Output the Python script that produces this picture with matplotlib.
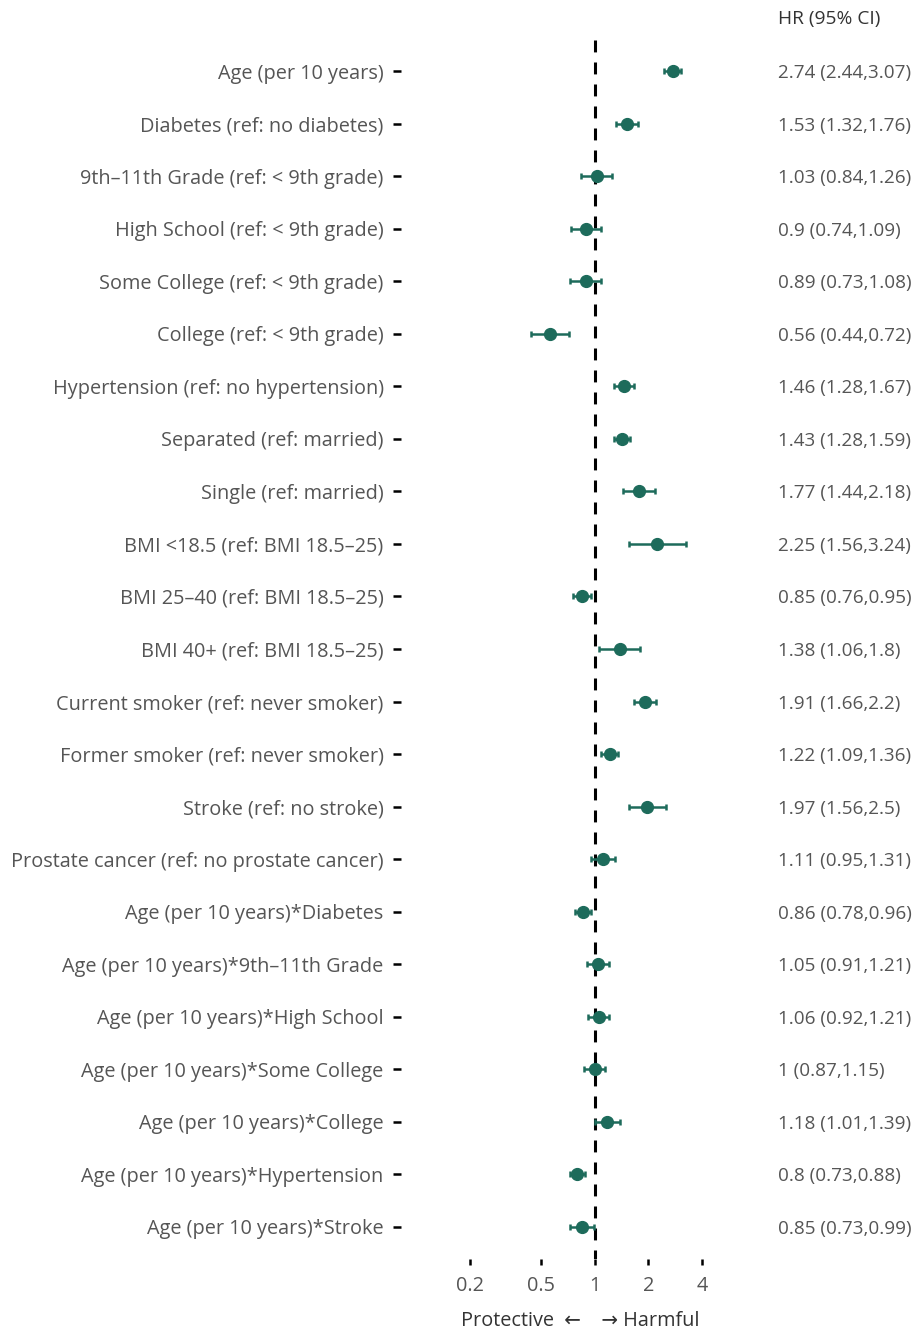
import matplotlib
matplotlib.use('Agg')
import matplotlib.pyplot as plt
import matplotlib.transforms as mtransforms

# forest plot data, top to bottom
labels = [
    'Age (per 10 years)',
    'Diabetes (ref: no diabetes)',
    '9th\u201311th Grade (ref: < 9th grade)',
    'High School (ref: < 9th grade)',
    'Some College (ref: < 9th grade)',
    'College (ref: < 9th grade)',
    'Hypertension (ref: no hypertension)',
    'Separated (ref: married)',
    'Single (ref: married)',
    'BMI <18.5 (ref: BMI 18.5\u201325)',
    'BMI 25\u201340 (ref: BMI 18.5\u201325)',
    'BMI 40+ (ref: BMI 18.5\u201325)',
    'Current smoker (ref: never smoker)',
    'Former smoker (ref: never smoker)',
    'Stroke (ref: no stroke)',
    'Prostate cancer (ref: no prostate cancer)',
    'Age (per 10 years)*Diabetes',
    'Age (per 10 years)*9th\u201311th Grade',
    'Age (per 10 years)*High School',
    'Age (per 10 years)*Some College',
    'Age (per 10 years)*College',
    'Age (per 10 years)*Hypertension',
    'Age (per 10 years)*Stroke',
]
hr = [2.74, 1.53, 1.03, 0.9, 0.89, 0.56, 1.46, 1.43, 1.77, 2.25, 0.85, 1.38,
      1.91, 1.22, 1.97, 1.11, 0.86, 1.05, 1.06, 1, 1.18, 0.8, 0.85]
lower = [2.44, 1.32, 0.84, 0.74, 0.73, 0.44, 1.28, 1.28, 1.44, 1.56, 0.76, 1.06,
         1.66, 1.09, 1.56, 0.95, 0.78, 0.91, 0.92, 0.87, 1.01, 0.73, 0.73]
upper = [3.07, 1.76, 1.26, 1.09, 1.08, 0.72, 1.67, 1.59, 2.18, 3.24, 0.95, 1.8,
         2.2, 1.36, 2.5, 1.31, 0.96, 1.21, 1.21, 1.15, 1.39, 0.88, 0.99]
hr_text = ['2.74 (2.44,3.07)', '1.53 (1.32,1.76)', '1.03 (0.84,1.26)', '0.9 (0.74,1.09)',
           '0.89 (0.73,1.08)', '0.56 (0.44,0.72)', '1.46 (1.28,1.67)', '1.43 (1.28,1.59)',
           '1.77 (1.44,2.18)', '2.25 (1.56,3.24)', '0.85 (0.76,0.95)', '1.38 (1.06,1.8)',
           '1.91 (1.66,2.2)', '1.22 (1.09,1.36)', '1.97 (1.56,2.5)', '1.11 (0.95,1.31)',
           '0.86 (0.78,0.96)', '1.05 (0.91,1.21)', '1.06 (0.92,1.21)', '1 (0.87,1.15)',
           '1.18 (1.01,1.39)', '0.8 (0.73,0.88)', '0.85 (0.73,0.99)']
x_ticks = [0.2, 0.5, 1, 2, 4]
x_tick_labels = ['0.2', '0.5', '1', '2', '4']

plt.rcParams['font.family'] = ['Open Sans', 'DejaVu Sans']
color = '#1d6b5b'
gray = '#555555'
W, H = 914, 1331

fig = plt.figure(figsize=(W / 100, H / 100), dpi=100)
ax = fig.add_axes([401 / W, 1 - 1258.5 / H, (760 - 401) / W, (1258.5 - 39.5) / H])

y = list(range(len(labels)))
err_lo = [h - l for h, l in zip(hr, lower)]
err_hi = [u - h for h, u in zip(hr, upper)]

# reference line at HR = 1
ax.plot([1, 1], [-0.6, len(labels) - 0.4], color='black', lw=2.2,
        linestyle=(0, (3.9, 3.3)), zorder=1)
ax.errorbar(hr, y, xerr=[err_lo, err_hi], fmt='o', color=color, ms=8.5,
            elinewidth=1.8, capsize=2.2, capthick=1.8, zorder=3)

ax.set_xscale('log')
ax.set_xlim(0.0821, 8.47)
ax.set_ylim(len(labels) - 0.4, -0.6)
ax.set_xticks(x_ticks)
ax.set_xticklabels(x_tick_labels)
ax.minorticks_off()
ax.set_yticks(y)
ax.set_yticklabels(labels)
ax.tick_params(axis='y', length=5.5, width=1.8, color='black', pad=7,
               labelsize=14.3, labelcolor=gray)
ax.tick_params(axis='x', length=4.5, width=1.8, color='black', pad=8,
               labelsize=14.3, labelcolor=gray)
for s in ax.spines.values():
    s.set_visible(False)
ax.set_xlabel('Protective  \u2190    \u2192 Harmful', fontsize=14.3, color='#333333', labelpad=11)

# HR (95% CI) column
trans = mtransforms.blended_transform_factory(fig.transFigure, ax.transData)
for yi, t in zip(y, hr_text):
    ax.text(778 / W, yi, t, transform=trans, ha='left', va='center_baseline',
            fontsize=13.6, color=gray, clip_on=False)
fig.text(778 / W, 1 - 17 / H, 'HR (95% CI)', ha='left', va='center_baseline',
         fontsize=13.8, color='#333333')

fig.savefig('out.png', dpi=100)
